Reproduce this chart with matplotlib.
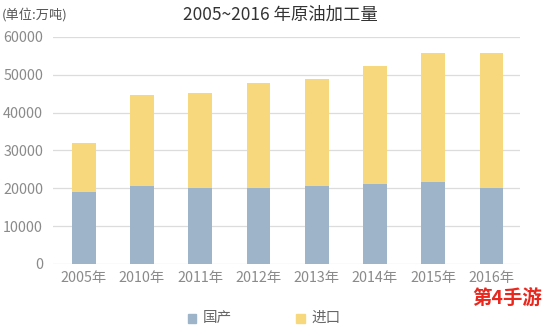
import matplotlib.pyplot as plt
import numpy as np

plt.rcParams['font.family'] = ['Noto Sans CJK SC', 'DejaVu Sans']

# data (万吨)
years = ["2005年", "2010年", "2011年", "2012年", "2013年", "2014年", "2015年", "2016年"]
domestic = [19000, 20600, 20100, 20100, 20700, 21100, 21600, 20100]
total = [32000, 44700, 45300, 47700, 48900, 52400, 55700, 55700]
imported = [t - d for t, d in zip(total, domestic)]

c_dom = "#9db4c9"
c_imp = "#f8d87c"
c_txt = "#8a8a8a"

fig = plt.figure(figsize=(5.44, 3.27), dpi=100)
ax = fig.add_axes([0.097, 0.193, 0.859, 0.694])

x = np.arange(len(years))
ax.bar(x, domestic, width=0.41, color=c_dom, zorder=2, label="国产")
ax.bar(x, imported, width=0.41, bottom=domestic, color=c_imp, zorder=2, label="进口")

ax.set_xlim(-0.53, 7.49)
ax.set_ylim(0, 60000)
ax.set_yticks(np.arange(0, 60001, 10000))
ax.set_yticklabels([str(v) for v in range(0, 60001, 10000)])
ax.set_xticks(x)
ax.set_xticklabels(years)
ax.grid(axis="y", color="#dcdcdc", linewidth=0.9, zorder=0)
for s in ax.spines.values():
    s.set_visible(False)
ax.tick_params(length=0, colors=c_txt, labelsize=10.3)
ax.tick_params(axis="x", pad=5)
ax.tick_params(axis="y", pad=7)

fig.text(0.515, 0.955, "2005~2016 年原油加工量", ha="center", va="center",
         fontsize=12.5, color="#333333")
fig.text(0.004, 0.955, "(单位:万吨)", ha="left", va="center", fontsize=9.5, color="#555555")

# legend drawn by hand to match placement
fig.patches.append(plt.Rectangle((0.345, 0.012), 0.016, 0.027,
                                 transform=fig.transFigure, color=c_dom))
fig.text(0.372, 0.027, "国产", ha="left", va="center", fontsize=10.5, color="#666666")
fig.patches.append(plt.Rectangle((0.545, 0.012), 0.016, 0.027,
                                 transform=fig.transFigure, color=c_imp))
fig.text(0.573, 0.027, "进口", ha="left", va="center", fontsize=10.5, color="#666666")

# watermark
fig.text(0.997, 0.085, "第4手游", ha="right", va="center", fontsize=14,
         fontweight="bold", color="#e8281e")

fig.savefig("out.png", dpi=100, facecolor="white")
